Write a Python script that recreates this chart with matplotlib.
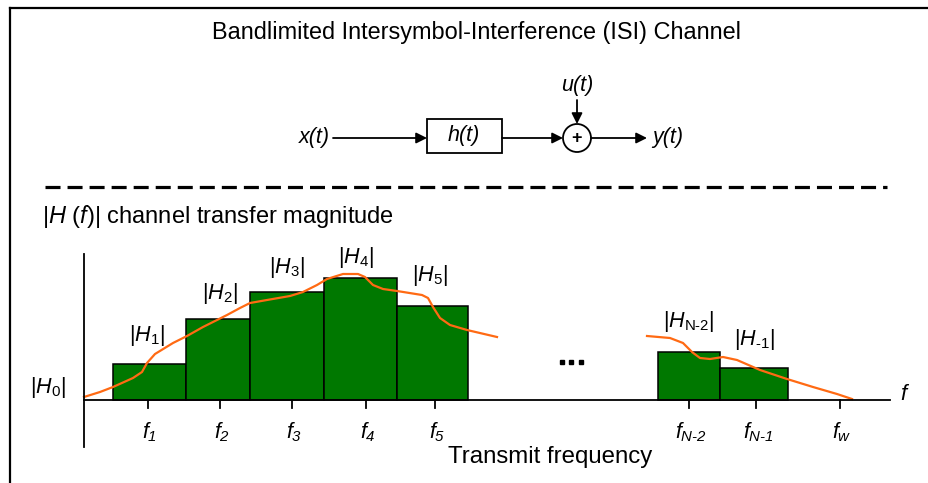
import matplotlib.pyplot as plt
from matplotlib.patches import Rectangle, Circle

plt.rcParams['font.family'] = 'Liberation Sans'
plt.rcParams['mathtext.fontset'] = 'custom'
plt.rcParams['mathtext.rm'] = 'Liberation Sans'
plt.rcParams['mathtext.it'] = 'Liberation Sans:italic'
# \mathbf se usa para subindices en cursiva (digitos incluidos)
plt.rcParams['mathtext.bf'] = 'Liberation Sans:italic'

# --- datos del canal (alturas) ---
bordes_izq = [113, 186, 250, 324, 397, 658, 720]
anchos = [73, 64, 74, 73, 71, 62, 68]
magnitudes = [36, 81, 108, 122, 94, 48, 32]
etiquetas_h = [r'$|H_{\mathrm{1}}|$', r'$|H_{\mathrm{2}}|$', r'$|H_{\mathrm{3}}|$',
               r'$|H_{\mathrm{4}}|$', r'$|H_{\mathrm{5}}|$',
               r'$|H_{\text{N-2}}|$', r'$|H_{\text{-1}}|$']
etiq_x = [147, 220, 287, 356, 430, 689, 754]
etiq_y = [64, 107, 132, 143, 124, 78, 60]

ticks_f = [148, 220, 292, 366, 435, 689, 756, 840]
etiquetas_f = [r'$f_{\mathbf{1}}$', r'$f_{\mathbf{2}}$', r'$f_{\mathbf{3}}$', r'$f_{\mathbf{4}}$',
               r'$f_{\mathbf{5}}$', r'$f_{\mathbf{N‐2}}$', r'$f_{\mathbf{N‐1}}$', r'$f_{\mathbf{w}}$']

# curva continua |H(f)| (dos tramos)
curva1_x = [84, 100, 113, 133, 142, 147, 155, 173, 187, 203, 227, 240, 250, 267, 290,
            303, 317, 327, 343, 358, 365, 373, 383, 397, 422, 428, 433, 440, 450, 467, 497]
curva1_y = [3, 8, 13, 22, 28, 37, 46, 57, 64, 73, 85, 92, 97, 100, 104,
            108, 115, 121, 126, 126, 123, 115, 111, 109, 105, 102, 93, 82, 75, 70, 63]
curva2_x = [647, 670, 683, 692, 700, 710, 723, 737, 760, 787, 813, 837, 852]
curva2_y = [64, 62, 57, 48, 42, 41, 43, 40, 30, 21, 13, 6, 1]

fig = plt.figure(figsize=(9.29, 4.83), dpi=100)

# ejes del diagrama (coordenadas en pixeles)
ax = fig.add_axes([0, 0, 1, 1])
ax.set_xlim(0, 929)
ax.set_ylim(483, 0)
ax.axis('off')

# ejes del espectro (y = altura sobre la linea base)
axc = fig.add_axes([0, 0, 1, 1])
axc.set_xlim(0, 929)
axc.set_ylim(-83, 400)
axc.axis('off')
axc.patch.set_alpha(0)

# marco
ax.plot([10, 10], [8, 483], color='black', lw=1.6)
ax.plot([10, 929], [8, 8], color='black', lw=1.6)

ax.text(477, 32, 'Bandlimited Intersymbol-Interference (ISI) Channel',
        ha='center', va='center', fontsize=16.9)

# diagrama de bloques
flecha = dict(arrowstyle='-|>', color='black', lw=1.3, mutation_scale=16, shrinkA=0, shrinkB=0)
ax.text(330, 137, 'x(t)', ha='right', va='center', fontsize=15.5, style='italic')
ax.annotate('', xy=(427, 138), xytext=(333, 138), arrowprops=flecha)
ax.add_patch(Rectangle((427, 119), 75, 34, fill=False, ec='black', lw=1.3))
ax.text(464, 136, 'h(t)', ha='center', va='center', fontsize=15.5, style='italic')
ax.annotate('', xy=(563, 138), xytext=(502, 138), arrowprops=flecha)
ax.add_patch(Circle((577, 138), 14, fill=False, ec='black', lw=1.3))
ax.text(577, 139, '+', ha='center', va='center', fontsize=13, weight='bold')
ax.annotate('', xy=(647, 138), xytext=(591, 138), arrowprops=flecha)
ax.text(652, 137, 'y(t)', ha='left', va='center', fontsize=15.5, style='italic')
ax.text(577, 86, 'u(t)', ha='center', va='center', fontsize=15.5, style='italic')
ax.annotate('', xy=(577, 124), xytext=(577, 100), arrowprops=flecha)

# linea discontinua
ax.plot([45, 887], [187, 187], color='black', lw=2.3, dashes=(4.7, 2.2))

ax.text(42, 217, r'$|H\ (f)|$ channel transfer magnitude', ha='left', va='center', fontsize=17)

# espectro
axc.bar(bordes_izq, magnitudes, width=anchos, align='edge',
        color='#007800', edgecolor='black', linewidth=1.1, zorder=2)
axc.plot(curva1_x, curva1_y, color='#FF6A13', lw=1.6, zorder=3)
axc.plot(curva2_x, curva2_y, color='#FF6A13', lw=1.6, zorder=3)

for etq, x, y in zip(etiquetas_h, etiq_x, etiq_y):
    axc.text(x, y, etq, ha='center', va='center', fontsize=15.5)

axc.plot([84.3, 84.3], [146, -47], color='black', lw=1.3, zorder=4)
axc.plot([84, 890], [0, 0], color='black', lw=1.3, zorder=4)
for x, etq in zip(ticks_f, etiquetas_f):
    axc.plot([x, x], [0, -8], color='black', lw=1.3)
    axc.text(x + 2, -32, etq, ha='center', va='center', fontsize=15.5)

axc.text(903, 5, 'f', ha='center', va='center', fontsize=16, style='italic')
axc.text(48, 12, r'$|H_{\mathrm{0}}|$', ha='center', va='center', fontsize=15.5)
axc.plot([562, 571.5, 581], [38, 38, 38], 's', color='black', markersize=3.4)
axc.text(550, -57, 'Transmit frequency', ha='center', va='center', fontsize=17.3)

fig.savefig('out.png', dpi=100)
